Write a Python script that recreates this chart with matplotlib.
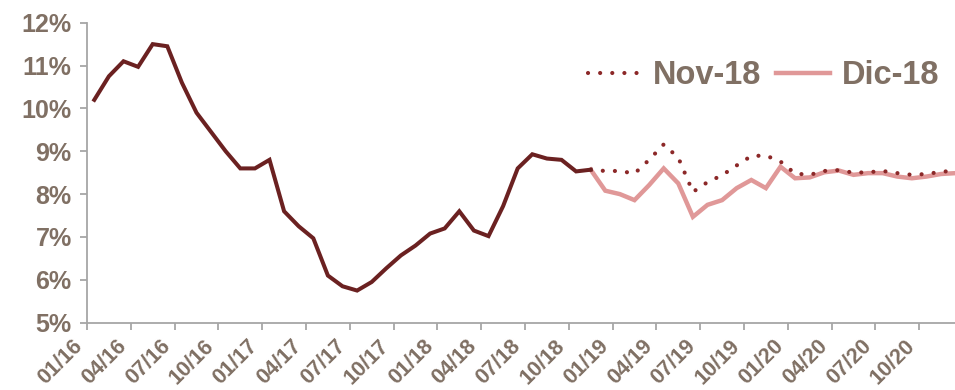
import matplotlib
matplotlib.use('Agg')
import matplotlib.pyplot as plt
import matplotlib.transforms as mtransforms
from matplotlib.ticker import FuncFormatter
import numpy as np

# monthly rate, 01/16 .. 11/18 (observed)
history = [10.2, 10.75, 11.1, 10.97, 11.5, 11.45, 10.6, 9.9, 9.45, 9.0, 8.6, 8.6,
           8.8, 7.6, 7.25, 6.97, 6.1, 5.85, 5.75, 5.95, 6.27, 6.57, 6.8, 7.08,
           7.2, 7.6, 7.15, 7.02, 7.72, 8.6, 8.93, 8.83, 8.8, 8.53, 8.57]

# forecasts, 11/18 .. 12/20
nov18 = [8.57, 8.54, 8.54, 8.48, 8.8, 9.16, 8.85, 8.05, 8.28, 8.44, 8.67, 8.89,
         8.9, 8.76, 8.48, 8.45, 8.54, 8.56, 8.5, 8.51, 8.54, 8.49, 8.45, 8.47,
         8.52, 8.55]
dic18 = [8.57, 8.08, 8.0, 7.86, 8.21, 8.6, 8.25, 7.47, 7.75, 7.86, 8.14, 8.33,
         8.14, 8.64, 8.37, 8.39, 8.51, 8.55, 8.45, 8.49, 8.49, 8.41, 8.37, 8.41,
         8.47, 8.49]

tick_labels = ['01/16', '04/16', '07/16', '10/16', '01/17', '04/17', '07/17',
               '10/17', '01/18', '04/18', '07/18', '10/18', '01/19', '04/19',
               '07/19', '10/19', '01/20', '04/20', '07/20', '10/20']

txt_color = '#807064'
axis_color = '#a6a6a6'
plt.rcParams['font.family'] = ['Liberation Sans', 'DejaVu Sans']
plt.rcParams['font.weight'] = 'bold'

fig = plt.figure(figsize=(9.55, 3.9), dpi=100)
ax = fig.add_axes([87 / 955, 67.3 / 390, 876 / 955, 300 / 390])

x_hist = np.arange(len(history))
x_fc = np.arange(len(history) - 1, len(history) - 1 + len(nov18))

ax.plot(x_fc, dic18, color='#e09898', lw=3.2, solid_joinstyle='miter',
        label='Dic-18', zorder=2)
ax.plot(x_fc, nov18, color='#8c2828', lw=3.0, linestyle=(0, (0.01, 2.9)),
        dash_capstyle='round', label='Nov-18', zorder=3)
ax.plot(x_hist, history, color='#6b2121', lw=2.9, solid_joinstyle='miter',
        zorder=4)

ax.set_xlim(-0.5, 59.5)
ax.set_ylim(5, 12)
ax.set_yticks(range(5, 13))
ax.yaxis.set_major_formatter(FuncFormatter(lambda v, p: f'{v:.0f}%'))

ax.set_xticks(np.arange(0, 60, 3) - 0.5)
ax.set_xticklabels(tick_labels, rotation=45, ha='right', va='top')
offset = mtransforms.ScaledTranslation(12 / 100, -6 / 100, fig.dpi_scale_trans)
for lab in ax.get_xticklabels():
    lab.set_transform(lab.get_transform() + offset)

ax.tick_params(axis='both', colors=axis_color, labelcolor=txt_color,
               direction='out', length=5, width=1.3)
ax.tick_params(axis='y', labelsize=18, pad=6)
ax.tick_params(axis='x', labelsize=15.5, pad=4)

for s in ['top', 'right']:
    ax.spines[s].set_visible(False)
for s in ['left', 'bottom']:
    ax.spines[s].set_color(axis_color)
    ax.spines[s].set_linewidth(1.3)

handles, labels = ax.get_legend_handles_labels()
leg = fig.legend(handles[::-1], labels[::-1], loc='center left',
                 bbox_to_anchor=(588 / 955, 1 - 76 / 390), ncol=2,
                 frameon=False, fontsize=23.5, handlelength=1.65,
                 handletextpad=0.35, columnspacing=0.45, borderpad=0,
                 borderaxespad=0)
for t in leg.get_texts():
    t.set_color(txt_color)

fig.savefig('out.png', dpi=100)
